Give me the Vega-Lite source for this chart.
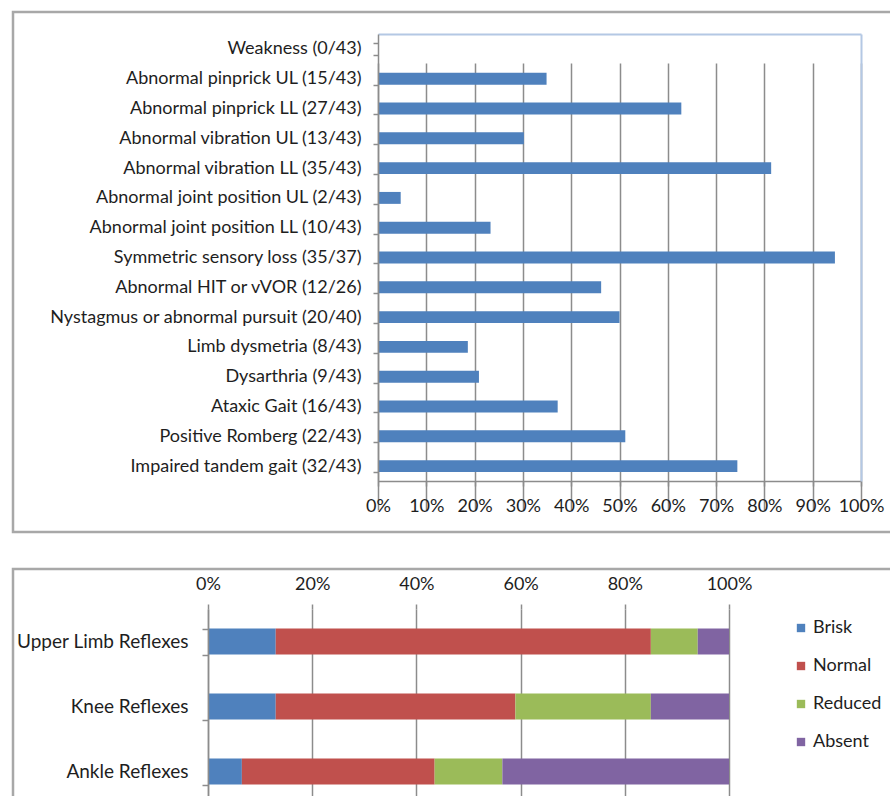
{
  "$schema": "https://vega.github.io/schema/vega-lite/v6.json",
  "padding": {"left": 11, "top": 1, "right": 0, "bottom": 0},
  "background": "white",
  "spacing": 37,
  "bounds": "flush",
  "resolve": {"legend": {"color": "independent"}},
  "config": {
    "view": {"stroke": "#a8a8a8", "strokeWidth": 2.5},
    "axis": {
      "labelFont": "Lato", "labelFontSize": 18, "labelColor": "#1e1e1e",
      "domainColor": "#8c8c8c", "tickColor": "#8c8c8c", "gridColor": "#8c8c8c",
      "domainWidth": 1.5, "tickWidth": 1.5, "gridWidth": 1.5,
      "labelLimit": 0, "labelOverlap": false, "labelFlush": false
    },
    "legend": {"labelFont": "Lato", "labelFontSize": 18, "labelColor": "#1e1e1e"}
  },
  "vconcat": [
    {
      "width": 880,
      "height": 520,
      "data": {"values": [
        {"item": "Weakness (0/43)", "pct": 0},
        {"item": "Abnormal pinprick UL (15/43)", "pct": 0.349},
        {"item": "Abnormal pinprick LL (27/43)", "pct": 0.628},
        {"item": "Abnormal vibration UL (13/43)", "pct": 0.302},
        {"item": "Abnormal vibration LL (35/43)", "pct": 0.814},
        {"item": "Abnormal joint position UL (2/43)", "pct": 0.047},
        {"item": "Abnormal joint position LL (10/43)", "pct": 0.233},
        {"item": "Symmetric sensory loss (35/37)", "pct": 0.946},
        {"item": "Abnormal HIT or vVOR (12/26)", "pct": 0.462},
        {"item": "Nystagmus or abnormal pursuit (20/40)", "pct": 0.5},
        {"item": "Limb dysmetria (8/43)", "pct": 0.186},
        {"item": "Dysarthria (9/43)", "pct": 0.209},
        {"item": "Ataxic Gait (16/43)", "pct": 0.372},
        {"item": "Positive Romberg (22/43)", "pct": 0.512},
        {"item": "Impaired tandem gait (32/43)", "pct": 0.744}
      ]},
      "resolve": {"axis": {"x": "independent", "y": "independent"}},
      "layer": [
        {
          "mark": {"type": "bar", "color": "#4F81BD"},
          "encoding": {
            "y": {
              "field": "item", "type": "nominal", "sort": null,
              "scale": {"range": [22, 469], "paddingInner": 0.6, "paddingOuter": 0.3},
              "axis": {"title": null, "offset": -365, "tickSize": 5, "tickBand": "extent", "labelPadding": 12, "grid": false, "zindex": 1}
            },
            "x": {
              "field": "pct", "type": "quantitative",
              "scale": {"domain": [0, 1], "range": [365, 848], "nice": false, "zero": true},
              "axis": {"title": null, "orient": "bottom", "offset": -51, "values": [0, 0.1, 0.2, 0.3, 0.4, 0.5, 0.6, 0.7, 0.8, 0.9, 1], "format": ".0%", "grid": true, "tickSize": 5, "labelPadding": 11}
            }
          }
        },
        {
          "mark": {"type": "bar", "opacity": 0},
          "encoding": {
            "y": {
              "field": "item", "type": "nominal", "sort": null,
              "axis": {"title": null, "orient": "right", "offset": -32, "domainColor": "#b4c8e4", "domainWidth": 2, "ticks": false, "labels": false, "grid": false}
            },
            "x": {
              "field": "pct", "type": "quantitative",
              "axis": {"title": null, "orient": "top", "offset": -22, "domainColor": "#b4c8e4", "domainWidth": 2, "ticks": false, "labels": false, "grid": false}
            }
          }
        }
      ]
    },
    {
      "width": 880,
      "height": 240,
      "data": {"values": [
        {"reflex": "Upper Limb Reflexes", "level": "Brisk", "pct": 13},
        {"reflex": "Upper Limb Reflexes", "level": "Normal", "pct": 72},
        {"reflex": "Upper Limb Reflexes", "level": "Reduced", "pct": 9},
        {"reflex": "Upper Limb Reflexes", "level": "Absent", "pct": 6},
        {"reflex": "Knee Reflexes", "level": "Brisk", "pct": 13},
        {"reflex": "Knee Reflexes", "level": "Normal", "pct": 46},
        {"reflex": "Knee Reflexes", "level": "Reduced", "pct": 26},
        {"reflex": "Knee Reflexes", "level": "Absent", "pct": 15},
        {"reflex": "Ankle Reflexes", "level": "Brisk", "pct": 6.5},
        {"reflex": "Ankle Reflexes", "level": "Normal", "pct": 37},
        {"reflex": "Ankle Reflexes", "level": "Reduced", "pct": 13},
        {"reflex": "Ankle Reflexes", "level": "Absent", "pct": 43.5}
      ]},
      "transform": [
        {"calculate": "indexof(['Brisk', 'Normal', 'Reduced', 'Absent'], datum.level)", "as": "levelOrder"}
      ],
      "mark": {"type": "bar"},
      "encoding": {
        "y": {
          "field": "reflex", "type": "nominal", "sort": null,
          "scale": {"range": [40, 235], "paddingInner": 0.6, "paddingOuter": 0.3},
          "axis": {"title": null, "offset": -195, "tickSize": 6, "tickBand": "extent", "labelPadding": 14, "labelFontSize": 19, "grid": false, "zindex": 1}
        },
        "x": {
          "field": "pct", "type": "quantitative", "stack": "zero",
          "scale": {"domain": [0, 100], "range": [195, 716], "nice": false},
          "axis": {"title": null, "orient": "top", "offset": -40, "values": [0, 20, 40, 60, 80, 100], "labelExpr": "datum.value + '%'", "domain": false, "grid": true, "tickSize": 5, "labelPadding": 11}
        },
        "order": {"field": "levelOrder", "type": "quantitative", "sort": "ascending"},
        "color": {
          "field": "level", "type": "nominal",
          "sort": ["Brisk", "Normal", "Reduced", "Absent"],
          "scale": {"domain": ["Brisk", "Normal", "Reduced", "Absent"], "range": ["#4F81BD", "#C0504D", "#9BBB59", "#8064A2"]},
          "legend": {"title": null, "orient": "none", "legendX": 779, "legendY": 50, "symbolType": "square", "symbolSize": 70, "symbolStrokeWidth": 0, "labelOffset": 3, "rowPadding": 20, "padding": 0}
        }
      }
    }
  ]
}
